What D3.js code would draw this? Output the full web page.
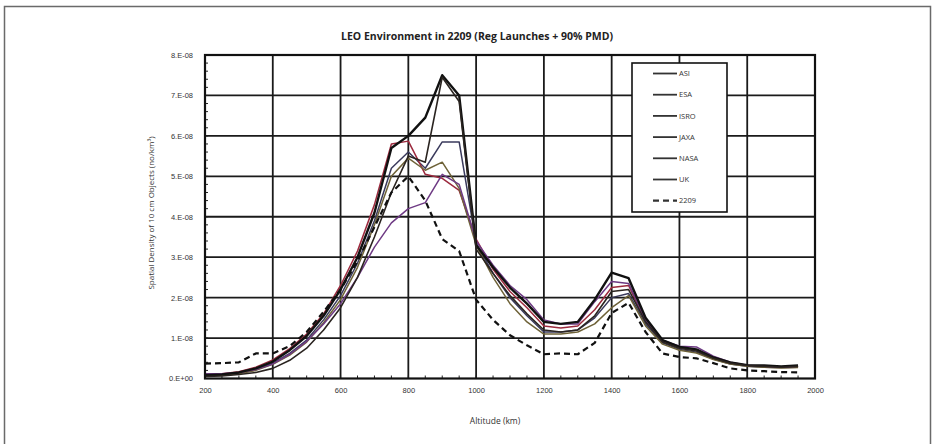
<!DOCTYPE html>
<html>
<head>
<meta charset="utf-8">
<script src="https://cdn.jsdelivr.net/npm/d3@7"></script>
<style>
  html, body { margin: 0; padding: 0; background: #fff; }
  svg { display: block; font-family: "Open Sans", "Liberation Sans", sans-serif; }
</style>
</head>
<body>
<svg id="chart" width="936" height="444"></svg>
<script>
// Altitude bins (km)
const altitudes = d3.range(200, 2000, 50);

// Spatial density of 10 cm objects, in units of 1E-08 objects/km^3
const asi  = [0.07,0.09,0.13,0.22,0.38,0.62,0.95,1.45,2.05,2.85,3.9,5.2,5.6,5.2,5.85,5.85,3.35,2.6,2.0,1.55,1.15,1.15,1.2,1.5,2.0,2.1,1.35,0.88,0.72,0.65,0.48,0.36,0.3,0.28,0.27,0.28];
const esa  = [0.1,0.12,0.17,0.28,0.46,0.74,1.1,1.6,2.3,3.15,4.3,5.8,5.87,5.05,4.95,4.65,3.45,2.7,2.15,1.75,1.3,1.25,1.3,1.7,2.25,2.3,1.42,0.92,0.76,0.7,0.5,0.38,0.32,0.3,0.28,0.3];
const isro = [0.06,0.08,0.12,0.2,0.35,0.58,0.9,1.38,1.95,2.75,3.8,5.0,5.45,5.15,5.35,4.7,3.3,2.5,1.85,1.4,1.1,1.1,1.15,1.35,1.75,2.05,1.3,0.85,0.7,0.63,0.47,0.36,0.3,0.28,0.26,0.27];
const jaxa = [0.12,0.12,0.15,0.22,0.36,0.6,0.92,1.35,1.85,2.5,3.25,3.85,4.2,4.35,5.05,4.8,3.4,2.8,2.3,1.95,1.45,1.35,1.35,1.9,2.4,2.35,1.45,0.95,0.8,0.78,0.55,0.4,0.33,0.3,0.28,0.3];
const nasa = [0.08,0.1,0.15,0.25,0.42,0.7,1.05,1.55,2.2,3.0,4.1,5.7,6.0,6.45,7.5,7.0,3.3,2.75,2.25,1.85,1.4,1.35,1.4,1.95,2.62,2.48,1.5,0.95,0.78,0.72,0.52,0.4,0.33,0.32,0.3,0.32];
const uk   = [0.05,0.06,0.1,0.15,0.25,0.45,0.75,1.2,1.75,2.5,3.5,4.6,5.5,5.35,7.45,6.85,3.2,2.6,2.05,1.6,1.2,1.15,1.2,1.55,2.15,2.2,1.4,0.9,0.75,0.68,0.5,0.38,0.32,0.3,0.28,0.3];
const env2209 = [0.37,0.38,0.4,0.62,0.62,0.8,1.15,1.65,2.2,2.9,3.75,4.6,5.0,4.4,3.45,3.15,1.95,1.45,1.07,0.82,0.6,0.62,0.6,0.88,1.62,1.87,1.15,0.62,0.53,0.5,0.38,0.25,0.2,0.18,0.16,0.15];

const seriesNames = ["ASI", "ESA", "ISRO", "JAXA", "NASA", "UK", "2209"];
const xTickValues = [200, 400, 600, 800, 1000, 1200, 1400, 1600, 1800, 2000];
const yTickValues = [0, 1, 2, 3, 4, 5, 6, 7, 8];
const yTickLabels = ["0.E+00", "1.E-08", "2.E-08", "3.E-08", "4.E-08", "5.E-08", "6.E-08", "7.E-08", "8.E-08"];

const series = [
  { name: "ASI",  values: asi,     color: "#3a3a5c", width: 1.5, dash: null },
  { name: "ESA",  values: esa,     color: "#9c2a3e", width: 1.5, dash: null },
  { name: "ISRO", values: isro,    color: "#6e6238", width: 1.5, dash: null },
  { name: "JAXA", values: jaxa,    color: "#6e3a84", width: 1.5, dash: null },
  { name: "NASA", values: nasa,    color: "#111111", width: 2.4, dash: null },
  { name: "UK",   values: uk,      color: "#2a2420", width: 1.6, dash: null },
  { name: "2209", values: env2209, color: "#111111", width: 2.2, dash: "6,4" }
];

const svg = d3.select("#chart");

// outer frame
svg.append("rect")
  .attr("x", 4.5).attr("y", 6.5).attr("width", 926).attr("height", 446)
  .attr("fill", "none").attr("stroke", "#6a6a6a").attr("stroke-width", 1.5);

const plot = { left: 205, right: 815, top: 55, bottom: 378.5 };

const x = d3.scaleLinear().domain([200, 2000]).range([plot.left, plot.right]);
const y = d3.scaleLinear().domain([0, 8]).range([plot.bottom, plot.top]);

// grid
const grid = svg.append("g").attr("stroke", "#1a1a1a").attr("stroke-width", 1.8);
grid.selectAll("line.v").data(xTickValues.slice(1, -1)).join("line")
  .attr("x1", d => x(d)).attr("x2", d => x(d))
  .attr("y1", plot.top).attr("y2", plot.bottom);
grid.selectAll("line.h").data(yTickValues.slice(1, -1)).join("line")
  .attr("x1", plot.left).attr("x2", plot.right)
  .attr("y1", d => y(d)).attr("y2", d => y(d));

// minor ticks along the axes
const minor = svg.append("g").attr("stroke", "#222").attr("stroke-width", 1);
minor.selectAll("line.mx").data(d3.range(250, 2000, 50)).join("line")
  .attr("x1", d => x(d)).attr("x2", d => x(d))
  .attr("y1", plot.bottom).attr("y2", plot.bottom - 3);
minor.selectAll("line.my").data(d3.range(0.2, 8, 0.2)).join("line")
  .attr("x1", plot.left).attr("x2", plot.left + 3)
  .attr("y1", d => y(d)).attr("y2", d => y(d));

// axes labels via d3 axes
const xAxis = d3.axisBottom(x).tickValues(xTickValues).tickSize(0).tickPadding(9)
  .tickFormat(d3.format("d"));
svg.append("g").attr("transform", `translate(0,${plot.bottom})`).call(xAxis)
  .call(g => g.select(".domain").remove())
  .call(g => g.selectAll("text").attr("font-size", 7.5).attr("fill", "#333"));

const yAxis = d3.axisLeft(y).tickValues(yTickValues).tickSize(0).tickPadding(12)
  .tickFormat((d, i) => yTickLabels[i]);
svg.append("g").attr("transform", `translate(${plot.left},0)`).call(yAxis)
  .call(g => g.select(".domain").remove())
  .call(g => g.selectAll("text").attr("font-size", 7.5).attr("fill", "#333"));

// series lines
const line = d3.line().x((d, i) => x(altitudes[i])).y(d => y(d));
svg.append("g").attr("fill", "none")
  .selectAll("path").data(series).join("path")
  .attr("d", s => line(s.values))
  .attr("stroke", s => s.color)
  .attr("stroke-width", s => s.width)
  .attr("stroke-dasharray", s => s.dash)
  .attr("stroke-linejoin", "round");

// plot frame
svg.append("rect")
  .attr("x", plot.left).attr("y", plot.top)
  .attr("width", plot.right - plot.left).attr("height", plot.bottom - plot.top)
  .attr("fill", "none").attr("stroke", "#111").attr("stroke-width", 2.2);

// legend
const legend = svg.append("g").attr("transform", "translate(632,63)");
legend.append("rect").attr("width", 95).attr("height", 149)
  .attr("fill", "#fff").attr("stroke", "#111").attr("stroke-width", 1.6);
const items = legend.selectAll("g.item").data(series).join("g")
  .attr("transform", (d, i) => `translate(0,${10.5 + i * 21.2})`);
items.append("line").attr("x1", 21).attr("x2", 45)
  .attr("stroke", "#333").attr("stroke-width", d => d.dash ? 2.2 : 1.8)
  .attr("stroke-dasharray", d => d.dash);
items.append("text").attr("x", 47).attr("dy", "0.35em")
  .attr("font-size", 7.5).attr("fill", "#333").text(d => d.name);

// titles
svg.append("text").attr("x", 477).attr("y", 39.5).attr("text-anchor", "middle")
  .attr("font-size", 10.5).attr("font-weight", "bold").attr("fill", "#222")
  .text("LEO Environment in 2209 (Reg Launches + 90% PMD)");

svg.append("text").attr("x", 495).attr("y", 424).attr("text-anchor", "middle")
  .attr("font-size", 8.5).attr("fill", "#333").text("Altitude (km)");

svg.append("text")
  .attr("transform", "translate(154,213) rotate(-90)")
  .attr("text-anchor", "middle").attr("font-size", 8).attr("fill", "#333")
  .text("Spatial Density of 10 cm Objects (no/km³)");
</script>
</body>
</html>
